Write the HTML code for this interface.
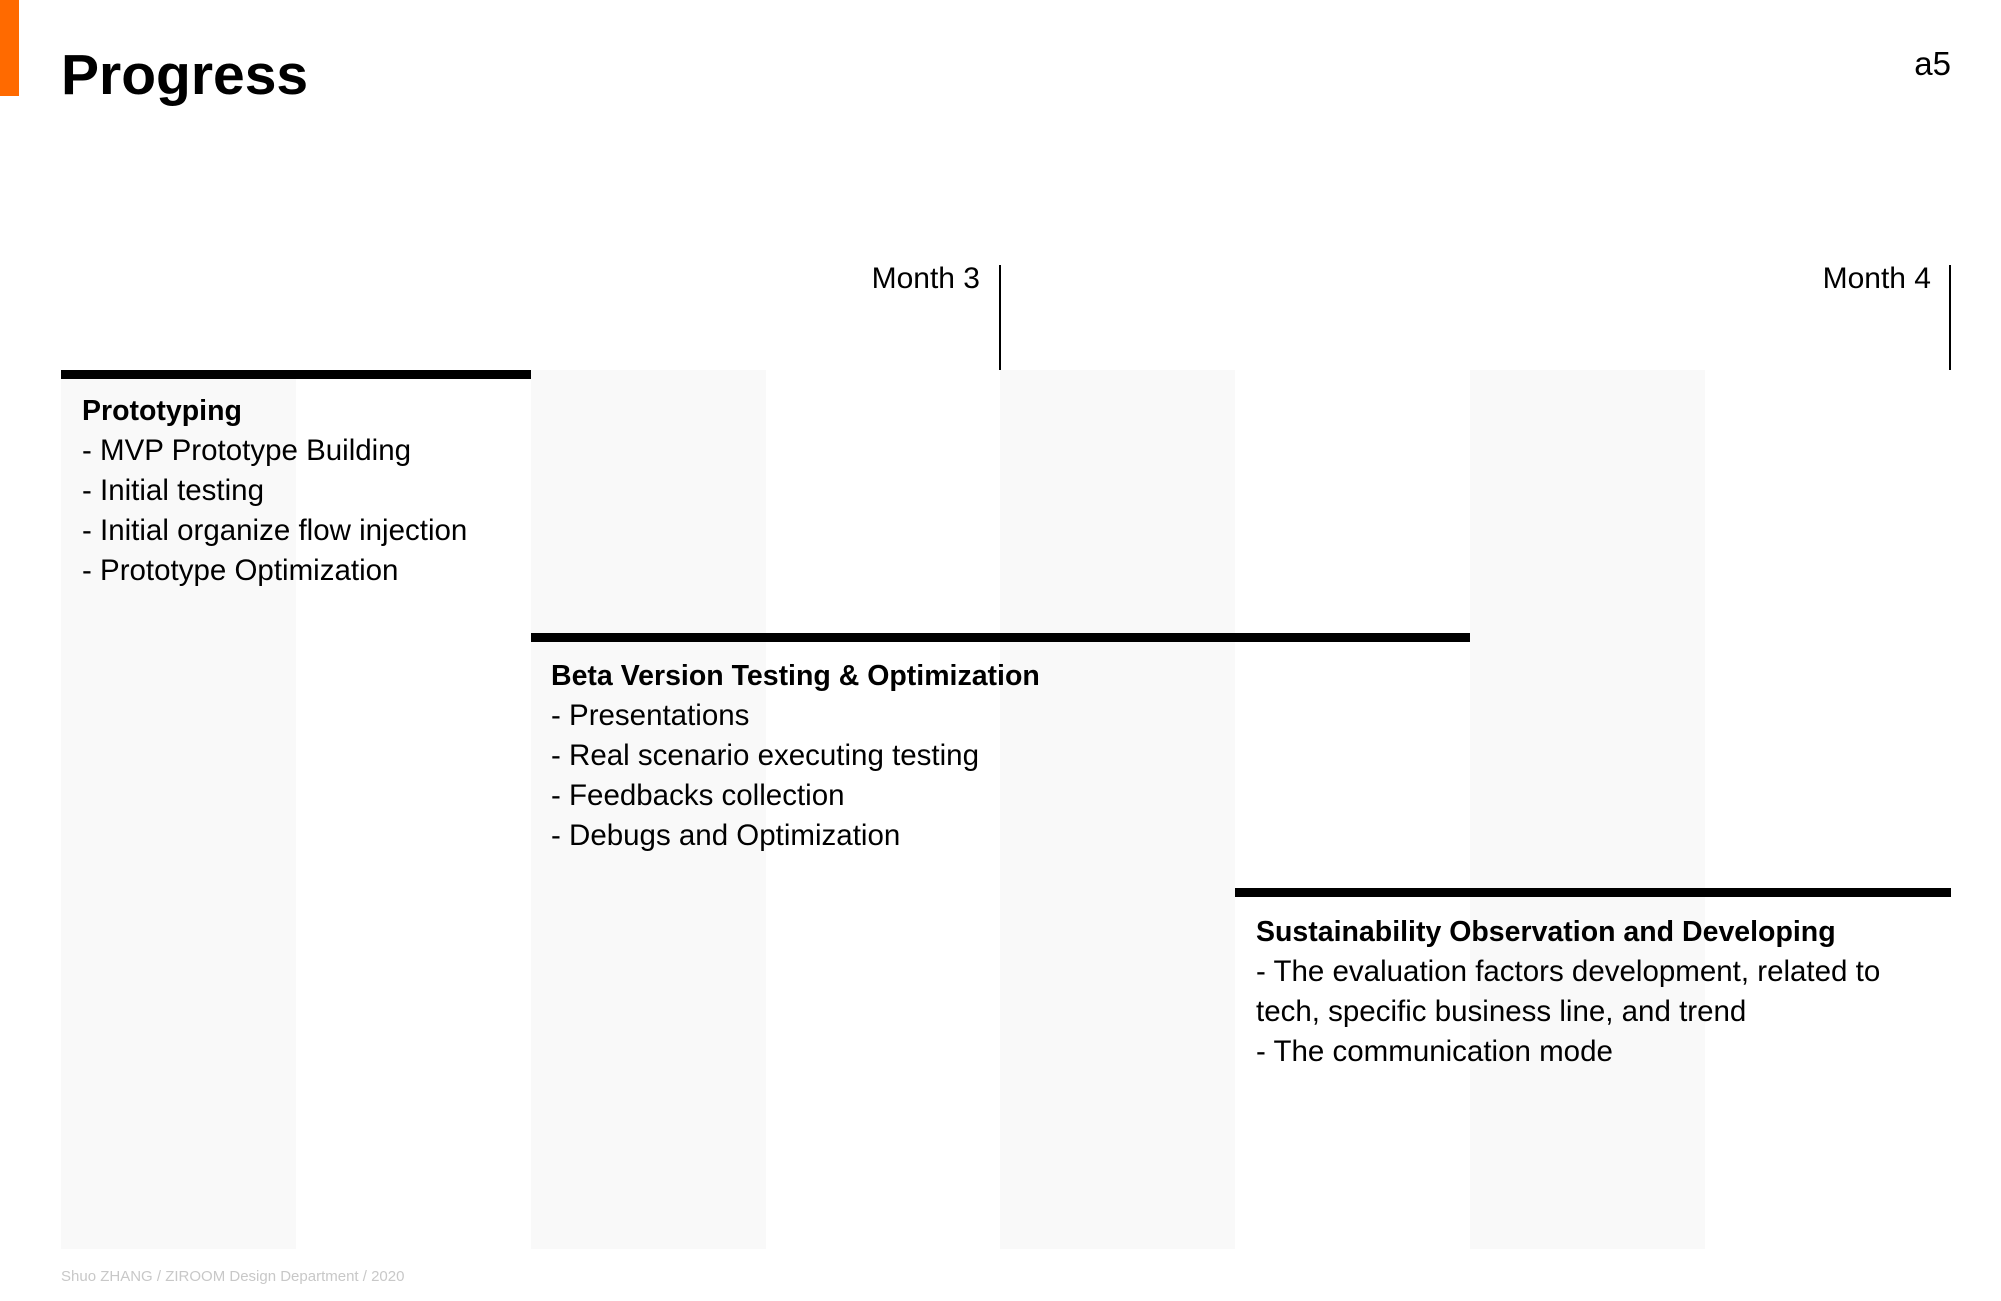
<!DOCTYPE html>
<html><head><meta charset="utf-8"><style>
body{margin:0;width:2001px;height:1301px;background:#fff;position:relative;overflow:hidden;font-family:"Liberation Sans",Arial,sans-serif;color:#000}
.a{position:absolute}
.col{position:absolute;top:370px;height:879px;width:235px;background:#f9f9f9}
.bar{position:absolute;height:9px;background:#000}
.t{position:absolute;font-size:29.5px;line-height:40px;white-space:nowrap}
.t b{font-weight:bold;font-size:28.5px}
</style></head><body>
<div class="a" style="left:0;top:0;width:19px;height:96px;background:#ff6a00"></div>
<div class="a" style="left:61px;top:40px;font-size:57px;font-weight:bold;line-height:70px">Progress</div>
<div class="a" style="right:50px;top:44px;font-size:33px;line-height:40px">a5</div>

<div class="col" style="left:61px"></div>
<div class="col" style="left:531px"></div>
<div class="col" style="left:1000px"></div>
<div class="col" style="left:1470px"></div>

<div class="a" style="right:1021px;top:259px;font-size:30px;line-height:40px">Month 3</div>
<div class="a" style="left:999px;top:265px;width:2px;height:105px;background:#000"></div>
<div class="a" style="right:70px;top:259px;font-size:30px;line-height:40px">Month 4</div>
<div class="a" style="left:1949px;top:265px;width:2px;height:105px;background:#000"></div>

<div class="bar" style="left:61px;width:470px;top:370px"></div>
<div class="bar" style="left:531px;width:939px;top:633px"></div>
<div class="bar" style="left:1235px;width:716px;top:888px"></div>

<div class="t" style="left:82px;top:391px"><b>Prototyping</b><br>- MVP Prototype Building<br>- Initial testing<br>- Initial organize flow injection<br>- Prototype Optimization</div>
<div class="t" style="left:551px;top:656px"><b>Beta Version Testing &amp; Optimization</b><br>- Presentations<br>- Real scenario executing testing<br>- Feedbacks collection<br>- Debugs and Optimization</div>
<div class="t" style="left:1256px;top:912px"><b>Sustainability Observation and Developing</b><br>- The evaluation factors development, related to<br>tech, specific business line, and trend<br>- The communication mode</div>

<div class="a" style="left:61px;top:1268px;font-size:15px;color:#c8c8c8">Shuo ZHANG / ZIROOM Design Department / 2020</div>
</body></html>
